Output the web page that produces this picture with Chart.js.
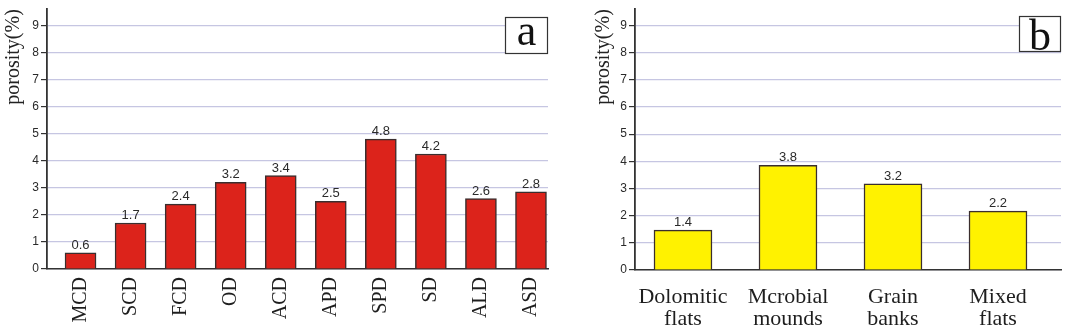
<!DOCTYPE html>
<html>
<head>
<meta charset="utf-8">
<script src="https://cdn.jsdelivr.net/npm/chart.js@4/dist/chart.umd.min.js"></script>
<style>
  html, body { margin: 0; padding: 0; background: #fff; }
  body { width: 1065px; height: 328px; position: relative; overflow: hidden; }
  .wrap { position: absolute; top: 0; }
  canvas { display: block; }
</style>
</head>
<body>
<div class="wrap" style="left:0;width:552px;height:328px;"><canvas id="ca" width="552" height="328"></canvas></div>
<div class="wrap" style="left:590px;width:475px;height:328px;"><canvas id="cb" width="475" height="328"></canvas></div>
<script>
// ---- data ----
const catsA = ['MCD', 'SCD', 'FCD', 'OD', 'ACD', 'APD', 'SPD', 'SD', 'ALD', 'ASD'];
const valsA = [0.6, 1.7, 2.4, 3.2, 3.45, 2.5, 4.8, 4.25, 2.6, 2.85];
const lblsA = ['0.6', '1.7', '2.4', '3.2', '3.4', '2.5', '4.8', '4.2', '2.6', '2.8'];

const catsB = [['Dolomitic', 'flats'], ['Mcrobial', 'mounds'], ['Grain', 'banks'], ['Mixed', 'flats']];
const valsB = [1.47, 3.85, 3.17, 2.17];
const lblsB = ['1.4', '3.8', '3.2', '2.2'];

const yTickValues = [0, 1, 2, 3, 4, 5, 6, 7, 8, 9];
const yTitle = 'porosity(%)';
const panelA = 'a';
const panelB = 'b';

// ---- styling helpers ----
const AXIS = '#333333';
const GRID = '#c6c6e2';
const SERIF = '"Liberation Serif", "Times New Roman", serif';
const SANS = '"Liberation Sans", Arial, sans-serif';

const valueLabels = {
  id: 'valueLabels',
  afterDatasetsDraw(chart, args, opts) {
    const ctx = chart.ctx;
    const meta = chart.getDatasetMeta(0);
    ctx.save();
    ctx.font = '13px ' + SANS;
    ctx.fillStyle = '#2a2a2a';
    ctx.textAlign = 'center';
    ctx.textBaseline = 'bottom';
    meta.data.forEach((el, i) => {
      ctx.fillText(opts.labels[i], el.x, el.y - 1);
    });
    ctx.restore();
  }
};

const panelBox = {
  id: 'panelBox',
  afterDraw(chart, args, opts) {
    const ctx = chart.ctx;
    const ca = chart.chartArea;
    const w = opts.w, h = opts.h;
    const x = ca.right - w, y = opts.top;
    ctx.save();
    ctx.fillStyle = '#ffffff';
    ctx.fillRect(x, y, w, h);
    ctx.strokeStyle = '#333';
    ctx.lineWidth = 1.2;
    ctx.strokeRect(x + 0.5, y + 0.5, w - 1, h - 1);
    ctx.fillStyle = '#111';
    ctx.font = opts.size + 'px ' + SERIF;
    ctx.textAlign = 'center';
    ctx.textBaseline = 'alphabetic';
    ctx.fillText(opts.letter, x + w / 2, y + h - opts.base);
    ctx.restore();
  }
};

function makeChart(id, cats, vals, lbls, opt) {
  const data = vals.map((v, i) => ({ x: i, y: v }));
  return new Chart(document.getElementById(id), {
    type: 'bar',
    data: {
      datasets: [{
        data: data,
        backgroundColor: opt.color,
        borderColor: '#3a2e2e',
        borderWidth: 1.5,
        barThickness: opt.barW
      }]
    },
    options: {
      responsive: false,
      animation: false,
      events: [],
      layout: { padding: { left: opt.padL, right: 4, top: 2, bottom: 0 } },
      plugins: {
        legend: { display: false },
        tooltip: { enabled: false },
        valueLabels: { labels: lbls },
        panelBox: { letter: opt.letter, w: opt.boxW, h: opt.boxH, top: opt.boxTop, size: opt.boxFont, base: opt.boxBase }
      },
      scales: {
        x: {
          type: 'linear',
          offset: false,
          bounds: 'data',
          min: opt.xMin,
          max: opt.xMax,
          grid: { display: false, drawTicks: false, offset: false },
          border: { display: true, color: AXIS, width: 1.5 },
          afterBuildTicks: (s) => { s.ticks = cats.map((c, i) => ({ value: i })); },
          afterFit: (s) => { s.height = opt.xH; s.paddingLeft = 0; s.paddingRight = 0; },
          ticks: {
            autoSkip: false,
            minRotation: opt.rot,
            maxRotation: opt.rot,
            padding: opt.xPad,
            color: '#1e1e1e',
            font: { family: SERIF, size: opt.xFont, lineHeight: 1.0 },
            callback: (v) => cats[v]
          }
        },
        y: {
          min: 0,
          max: 9.6,
          afterBuildTicks: (s) => { s.ticks = yTickValues.map(v => ({ value: v })); },
          afterFit: (s) => { s.width = 45; },
          grid: { color: GRID, lineWidth: 1.2, tickColor: AXIS, tickLength: 6, drawTicks: true },
          border: { display: true, color: AXIS, width: 1.8 },
          ticks: {
            padding: 2,
            color: '#2a2a2a',
            font: { family: SANS, size: 12 }
          },
          title: {
            display: true,
            text: yTitle,
            align: 'end',
            color: '#222',
            padding: { top: opt.titlePad, bottom: 0 },
            font: { family: SERIF, size: 20, lineHeight: 1.2 }
          }
        }
      }
    },
    plugins: [valueLabels, panelBox]
  });
}

makeChart('ca', catsA, valsA, lblsA, {
  color: '#dc231b', barW: 31, padL: 2, xMin: -0.67, xMax: 9.34,
  xH: 59, rot: 90, xPad: 8, xFont: 20, titlePad: 0,
  letter: panelA, boxW: 43, boxH: 37, boxTop: 17, boxFont: 44, boxBase: 9
});
makeChart('cb', catsB, valsB, lblsB, {
  color: '#fff200', barW: 58, padL: 0, xMin: -0.457, xMax: 3.6,
  xH: 58, rot: 0, xPad: 16, xFont: 22, titlePad: 2,
  letter: panelB, boxW: 42, boxH: 36, boxTop: 16, boxFont: 44, boxBase: 2
});
</script>
</body>
</html>
